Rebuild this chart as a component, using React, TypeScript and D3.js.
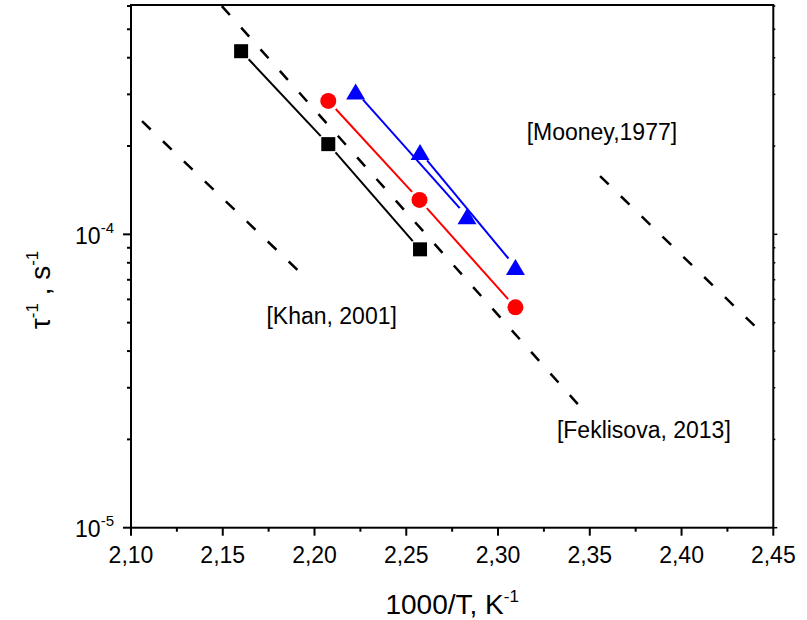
import React from 'react';
import * as d3 from 'd3';

// measured series (1000/T, tau^-1)
const blackX = [2.16, 2.2075, 2.2575];
const blackY = [4.21e-4, 2.03e-4, 8.89e-5];
const redX = [2.2075, 2.2572, 2.3095];
const redY = [2.85e-4, 1.31e-4, 5.64e-5];
const blueAX = [2.2224, 2.2831];
const blueAY = [3.07e-4, 1.152e-4];
const blueBX = [2.2575, 2.3095];
const blueBY = [1.91e-4, 7.74e-5];

// literature lines
const khanX = [2.106, 2.1948];
const khanY = [2.43e-4, 7.15e-5];
const feklisovaX = [2.1495, 2.3463];
const feklisovaY = [6.0e-4, 2.52e-5];
const mooneyX = [2.3556, 2.4438];
const mooneyY = [1.58e-4, 4.61e-5];

const refNames = ['[Khan, 2001]', '[Feklisova, 2013]', '[Mooney,1977]'];
const refLabelX = [2.1738, 2.3321, 2.3156];
const refLabelY = [4.95e-5, 2.02e-5, 2.096e-4];

const xTicks = [2.1, 2.15, 2.2, 2.25, 2.3, 2.35, 2.4, 2.45];
const xTickLabels = ['2,10', '2,15', '2,20', '2,25', '2,30', '2,35', '2,40', '2,45'];
const yDecades = [1e-5, 1e-4];
const yDecadeExp = ['-5', '-4'];

const W = 807, H = 620;
const left = 131, right = 773.3, top = 5, bottom = 527.7;
const font = '"Liberation Sans", Arial, sans-serif';

const x = d3.scaleLinear().domain([2.1, 2.45]).range([left, right]);
const y = d3.scaleLog().domain([1e-5, 6.05e-4]).range([bottom, top]);

const pts = (xs, ys) => xs.map((v, i) => [x(v), y(ys[i])]);

// line segments between symbols leave a small gap like Origin does
function gapped(p, gap) {
  const segs = [];
  for (let i = 0; i < p.length - 1; i++) {
    const [x1, y1] = p[i], [x2, y2] = p[i + 1];
    const len = Math.hypot(x2 - x1, y2 - y1);
    const ux = (x2 - x1) / len, uy = (y2 - y1) / len;
    segs.push([[x1 + ux * gap, y1 + uy * gap], [x2 - ux * gap, y2 - uy * gap]]);
  }
  return segs;
}

const line = d3.line();

function Series({ xs, ys, color, symbol }) {
  const p = pts(xs, ys);
  return (
    <g>
      {gapped(p, 11).map((s, i) => (
        <path key={i} d={line(s)} stroke={color} strokeWidth={2} fill="none" />
      ))}
      {p.map(([cx, cy], i) => {
        if (symbol === 'square')
          return <rect key={i} x={cx - 7} y={cy - 7} width={14} height={14} fill={color} />;
        if (symbol === 'circle') return <circle key={i} cx={cx} cy={cy} r={8} fill={color} />;
        return (
          <path key={i} d={`M${cx},${cy - 8}L${cx + 9.5},${cy + 8}L${cx - 9.5},${cy + 8}Z`} fill={color} />
        );
      })}
    </g>
  );
}

export default function App() {
  const minorY = [];
  [1e-5, 1e-4].forEach(d => {
    for (let k = 2; k <= 9; k++) {
      const v = d * k;
      if (v <= 6.05e-4) minorY.push(v);
    }
  });
  const minorX = xTicks.slice(0, -1).map(t => t + 0.025);
  const refs = [[khanX, khanY], [feklisovaX, feklisovaY], [mooneyX, mooneyY]];

  return (
    <svg width={W} height={H} style={{ position: 'absolute', left: 0, top: 0, background: '#fff' }}
      fontFamily={font}>
      <defs>
        <clipPath id="plot">
          <rect x={left} y={top} width={right - left} height={bottom - top} />
        </clipPath>
      </defs>

      <g clipPath="url(#plot)">
        {refs.map(([xs, ys], i) => (
          <path key={i} d={line(pts(xs, ys))} stroke="#000" strokeWidth={2.5}
            strokeDasharray="12 17" fill="none" />
        ))}
      </g>

      <Series xs={blackX} ys={blackY} color="#000" symbol="square" />
      <Series xs={redX} ys={redY} color="#ff0000" symbol="circle" />
      <Series xs={blueAX} ys={blueAY} color="#0000ff" symbol="triangle" />
      <Series xs={blueBX} ys={blueBY} color="#0000ff" symbol="triangle" />

      {refNames.map((n, i) => (
        <text key={n} x={x(refLabelX[i])} y={y(refLabelY[i])} fontSize={23} fill="#000">{n}</text>
      ))}

      {/* frame */}
      <rect x={left} y={top} width={right - left} height={bottom - top} fill="none" stroke="#000" strokeWidth={2} />

      {/* x ticks */}
      {xTicks.map((t, i) => (
        <g key={t}>
          <line x1={x(t)} x2={x(t)} y1={bottom} y2={bottom + 8} stroke="#000" strokeWidth={2} />
          <text x={x(t)} y={563} textAnchor="middle" fontSize={23}>{xTickLabels[i]}</text>
        </g>
      ))}
      {minorX.map(t => (
        <line key={t} x1={x(t)} x2={x(t)} y1={bottom} y2={bottom + 4} stroke="#000" strokeWidth={2} />
      ))}

      {/* y ticks */}
      {yDecades.map((d, i) => (
        <g key={d}>
          <line x1={left - 8} x2={left} y1={y(d)} y2={y(d)} stroke="#000" strokeWidth={2} />
          <line x1={right} x2={right + 4} y1={y(d)} y2={y(d)} stroke="#000" strokeWidth={1.5} />
          <text x={114} y={y(d) + 9.5} textAnchor="end" fontSize={23}>
            10<tspan dy={-11} fontSize={15}>{yDecadeExp[i]}</tspan>
          </text>
        </g>
      ))}
      {minorY.map(v => (
        <g key={v}>
          <line x1={left - 4} x2={left} y1={y(v)} y2={y(v)} stroke="#000" strokeWidth={2} />
          <line x1={right} x2={right + 2} y1={y(v)} y2={y(v)} stroke="#000" strokeWidth={1.5} />
        </g>
      ))}

      {/* axis titles */}
      <text x={(left + right) / 2} y={614} textAnchor="middle" fontSize={28}>
        1000/T, K<tspan dy={-12} fontSize={17}>-1</tspan>
      </text>
      <text transform="translate(50,290) rotate(-90)" textAnchor="middle" fontSize={28}>
        τ<tspan dy={-12} fontSize={17}>-1</tspan><tspan dy={12}> , s</tspan>
        <tspan dy={-12} fontSize={17}>-1</tspan>
      </text>
    </svg>
  );
}
